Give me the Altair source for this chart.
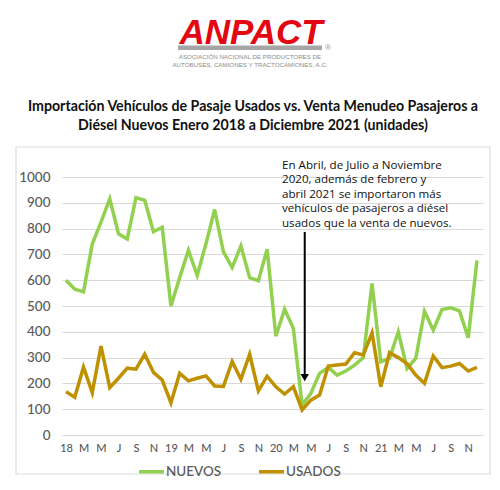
import altair as alt
import pandas as pd

# ---- data (Jan 2018 .. Dec 2021, monthly) ----
nuevos = [600, 565, 555, 740, 825, 915, 780, 760, 920, 910, 788, 805,
          500, 610, 716, 619, 740, 874, 710, 649, 733, 610, 598, 720,
          383, 488, 413, 116, 161, 239, 262, 232, 248, 271, 300, 587,
          284, 297, 400, 258, 297, 480, 406, 486, 493, 481, 377, 677]
usados = [168, 146, 263, 164, 345, 184, 220, 259, 255, 313, 243, 213,
          125, 239, 210, 220, 229, 190, 188, 285, 216, 313, 171, 228,
          187, 159, 187, 97, 135, 155, 267, 271, 275, 319, 310, 396,
          187, 319, 300, 277, 232, 200, 306, 261, 267, 277, 248, 262]
years = ["18", "19", "20", "21"]
tick_labels = [lab for y in years for lab in [y, "M", "M", "J", "S", "N"]]
series = ["NUEVOS", "USADOS"]
colors = ["#92D050", "#BF9000"]

title_lines = ["Importación Vehículos de Pasaje Usados vs. Venta Menudeo Pasajeros a",
               "Diésel Nuevos  Enero 2018 a Diciembre 2021 (unidades)"]
note = ("En Abril, de Julio a Noviembre\n2020, además de febrero y\n"
        "abril 2021 se importaron más\nvehículos de pasajeros a diésel\n"
        "usados que la venta de nuevos.")
logo = "ANPACT"
logo_sub = "ASOCIACIÓN NACIONAL DE PRODUCTORES DE\nAUTOBUSES, CAMIONES Y TRACTOCAMIONES, A.C."
arrow_x = [27.3]
arrow_top = [787]
arrow_bottom = [232]
arrow_head = [222]

months = list(range(len(nuevos)))
df = pd.DataFrame({
    "m": months * 2,
    "v": nuevos + usados,
    "s": [series[0]] * len(nuevos) + [series[1]] * len(usados),
})

FONT = "Lato"
xscale = alt.Scale(domain=[-0.46, 47.69], nice=False, zero=False)
yscale = alt.Scale(domain=[0, 1000], nice=False)
label_expr = "[" + ",".join("'%s'" % l for l in tick_labels) + "][datum.value/2]"

x_axis = alt.Axis(values=list(range(0, 48, 2)), labelExpr=label_expr, grid=False,
                  domain=False, ticks=False, labelFontSize=11, labelColor="#595959",
                  labelPadding=7, title=None, labelFont=FONT, labelFontWeight=500,
                  labelOverlap=False, labelFlush=False, labelBound=False)
y_axis = alt.Axis(values=list(range(0, 1001, 100)), format="d", grid=True,
                  gridColor="#d9d9d9", domain=False, ticks=False, labelPadding=12,
                  labelFontSize=13.5, labelColor="#595959", labelFont=FONT,
                  labelFontWeight=500, title=None, labelOverlap=False)

one = pd.DataFrame({"a": [0]})

frame = alt.Chart(one).mark_rect(fillOpacity=0, stroke="#dcdcdc", strokeWidth=1.2).encode(
    x=alt.value(-46), x2=alt.value(428), y=alt.value(-30), y2=alt.value(297))

lines = alt.Chart(df).mark_line(strokeWidth=3.5).encode(
    x=alt.X("m:Q", scale=xscale, axis=x_axis),
    y=alt.Y("v:Q", scale=yscale, axis=y_axis),
    color=alt.Color("s:N", scale=alt.Scale(domain=series, range=colors),
                    legend=alt.Legend(orient="none", legendX=75, legendY=280, direction="horizontal",
                                      title=None, symbolType="stroke", symbolSize=625,
                                      symbolStrokeWidth=3.5, labelFontSize=13.5, labelColor="#595959",
                                      labelFont=FONT, labelFontWeight=500, columnPadding=30,
                                      labelOffset=0)),
    detail="s:N",
    order="m:Q",
)

arrow_df = pd.DataFrame({"x": arrow_x, "top": arrow_top, "bot": arrow_bottom, "head": arrow_head})
arrow_line = alt.Chart(arrow_df).mark_rule(color="black", strokeWidth=2).encode(
    x=alt.X("x:Q", scale=xscale, axis=x_axis),
    y=alt.Y("top:Q", scale=yscale, axis=y_axis), y2="bot:Q")
arrow_tip = alt.Chart(arrow_df).mark_point(shape="triangle-down", filled=True, color="black",
                                           size=70, opacity=1).encode(
    x=alt.X("x:Q", scale=xscale, axis=x_axis), y=alt.Y("head:Q", scale=yscale, axis=y_axis))

note_t = alt.Chart(pd.DataFrame({"t": [note]})).mark_text(
    lineBreak="\n", lineHeight=14.4, align="left", baseline="middle", fontSize=11.6,
    font="Open Sans", fontWeight=500, color="#111111").encode(
    text="t:N", x=alt.value(220), y=alt.value(-11))

title_t = alt.Chart(pd.DataFrame({"t": ["\n".join(title_lines)]})).mark_text(
    lineBreak="\n", lineHeight=19, align="center", baseline="middle", fontSize=14.2,
    font=FONT, fontWeight="bold", color="#111111").encode(
    text="t:N", x=alt.value(191), y=alt.value(-70))

logo_t = alt.Chart(pd.DataFrame({"t": [logo]})).mark_text(
    align="center", baseline="alphabetic", fontSize=35, font="Liberation Sans",
    fontWeight="bold", fontStyle="italic", color="#E30613").encode(
    text="t:N", x=alt.value(189), y=alt.value(-133))

logo_bar = alt.Chart(one).mark_rect(color="#a6a6a6").encode(
    x=alt.value(116), x2=alt.value(260), y=alt.value(-131.5), y2=alt.value(-127))

logo_r = alt.Chart(pd.DataFrame({"t": ["®"]})).mark_text(
    align="left", baseline="middle", fontSize=8, color="#999999").encode(
    text="t:N", x=alt.value(263), y=alt.value(-129))

logo_sub_t = alt.Chart(pd.DataFrame({"t": [logo_sub]})).mark_text(
    lineBreak="\n", lineHeight=8.3, align="center", baseline="middle", fontSize=6.2,
    font="Liberation Sans", color="#8c8c8c").encode(
    text="t:N", x=alt.value(188), y=alt.value(-120))

chart = alt.layer(frame, lines, arrow_line, arrow_tip, note_t, title_t, logo_t, logo_bar,
                  logo_r, logo_sub_t).properties(
    width=421, height=258,
    autosize=alt.AutoSizeParams(type="none"),
    padding={"left": 62, "top": 177, "right": 17, "bottom": 55},
    background="white",
).configure_view(stroke=None)

chart.save("out.html", embed_options={"renderer": "svg", "actions": False})
